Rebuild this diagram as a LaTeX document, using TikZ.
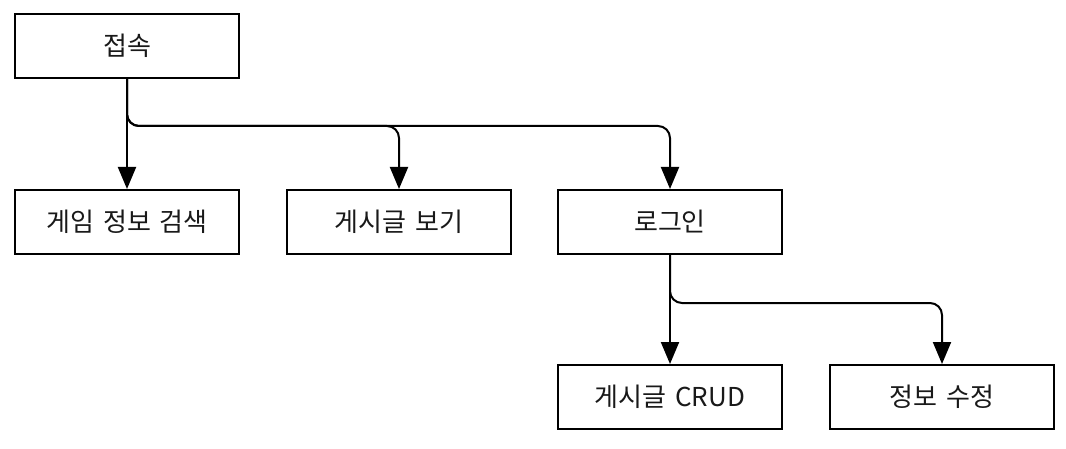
\documentclass[tikz,border=0pt]{standalone}
\usepackage{fontspec}
\setmainfont[WordSpace=1.5]{Noto Sans CJK KR}
\usetikzlibrary{arrows.meta}
\tikzset{
  box/.style={draw=black, line width=2pt, minimum width=224pt, minimum height=64pt, inner sep=0pt, font=\fontsize{26}{30}\selectfont, text=black!90},
  arr/.style={line width=2pt, -{Triangle[length=22pt,width=18pt]}, rounded corners=12pt}
}
\begin{document}
\begin{tikzpicture}[x=1pt,y=-1pt]
\useasboundingbox (0,0) rectangle (1066,449);
\node[box] (a) at (127,46) {접속};
\node[box] (b1) at (127,222) {게임 정보 검색};
\node[box] (b2) at (399,222) {게시글 보기};
\node[box] (b3) at (670,222) {로그인};
\node[box] (c1) at (670,397) {게시글 CRUD};
\node[box] (c2) at (942,397) {정보 수정};
\coordinate (j1) at (127,126);
\coordinate (j2) at (670,303);
\draw[arr] (a.south) -- (b1.north);
\draw[arr] (a.south) -- (j1) -| (b2.north);
\draw[arr] (a.south) -- (j1) -| (b3.north);
\draw[arr] (b3.south) -- (c1.north);
\draw[arr] (b3.south) -- (j2) -| (c2.north);
\end{tikzpicture}
\end{document}
